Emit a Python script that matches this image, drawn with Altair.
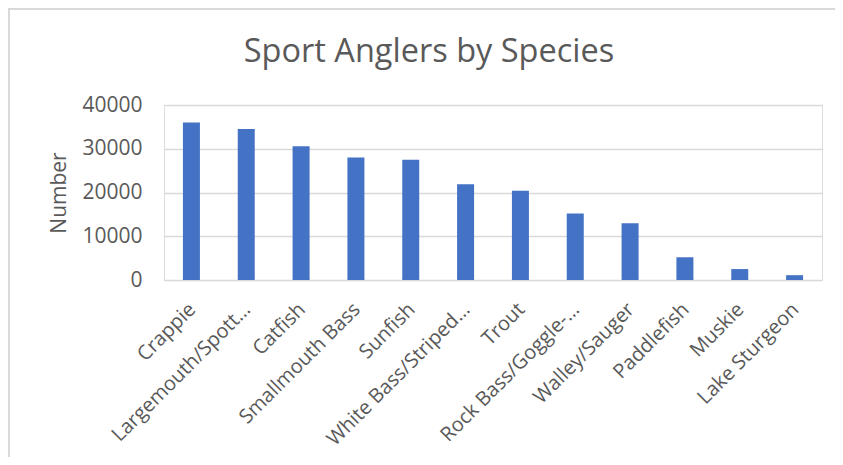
import altair as alt
import pandas as pd

species = ["Crappie", "Largemouth/Spott…", "Catfish", "Smallmouth Bass", "Sunfish",
           "White Bass/Striped…", "Trout", "Rock Bass/Goggle-…", "Walley/Sauger",
           "Paddlefish", "Muskie", "Lake Sturgeon"]
counts = [36000, 34500, 30600, 28000, 27500, 21900, 20400, 15200, 13000, 5200, 2500, 1100]
y_ticks = [0, 10000, 20000, 30000, 40000]

df = pd.DataFrame({"species": species, "count": counts})

FONT = "Open Sans"
GREY = "#595959"

bars = alt.Chart(df).mark_bar(color="#4472C4").encode(
    x=alt.X("species:N", sort=species, title=None,
            scale=alt.Scale(paddingInner=0.69, paddingOuter=0.345),
            axis=alt.Axis(labelAngle=-45, labelAlign="right", labelBaseline="top",
                          labelFontSize=20, labelColor=GREY, labelFont=FONT,
                          ticks=False, domain=False, labelPadding=19, labelOffset=-6,
                          labelLimit=300)),
    y=alt.Y("count:Q", title="Number", scale=alt.Scale(domain=[0, 40000]),
            axis=alt.Axis(values=y_ticks, format="d", labelFontSize=21, labelColor=GREY,
                          labelFont=FONT, ticks=False, domain=False, labelPadding=22,
                          gridColor="#d9d9d9", gridWidth=1.5,
                          titleFontSize=21, titleFont=FONT, titleColor=GREY,
                          titleFontWeight="normal", titlePadding=12)),
)

border_df = pd.DataFrame({"a": [0]})
left_border = alt.Chart(border_df).mark_rule(color="#d9d9d9", strokeWidth=2).encode(
    x=alt.value(-155), y=alt.value(-96), y2=alt.value(400))
top_border = alt.Chart(border_df).mark_rule(color="#d9d9d9", strokeWidth=2).encode(
    x=alt.value(-156), x2=alt.value(720), y=alt.value(-96))

chart = alt.layer(bars, left_border, top_border).properties(
    width=658, height=175,
    title=alt.TitleParams("Sport Anglers by Species", fontSize=32.5, font=FONT, color=GREY,
                          fontWeight="normal", anchor="middle", dx=-64, offset=-60),
    autosize=alt.AutoSizeParams(type="none"),
    padding={"left": 156, "top": 97, "right": 13, "bottom": 177},
).configure_view(stroke=None).configure(background="white")

chart.save("out.html", embed_options={"renderer": "svg", "actions": False})
